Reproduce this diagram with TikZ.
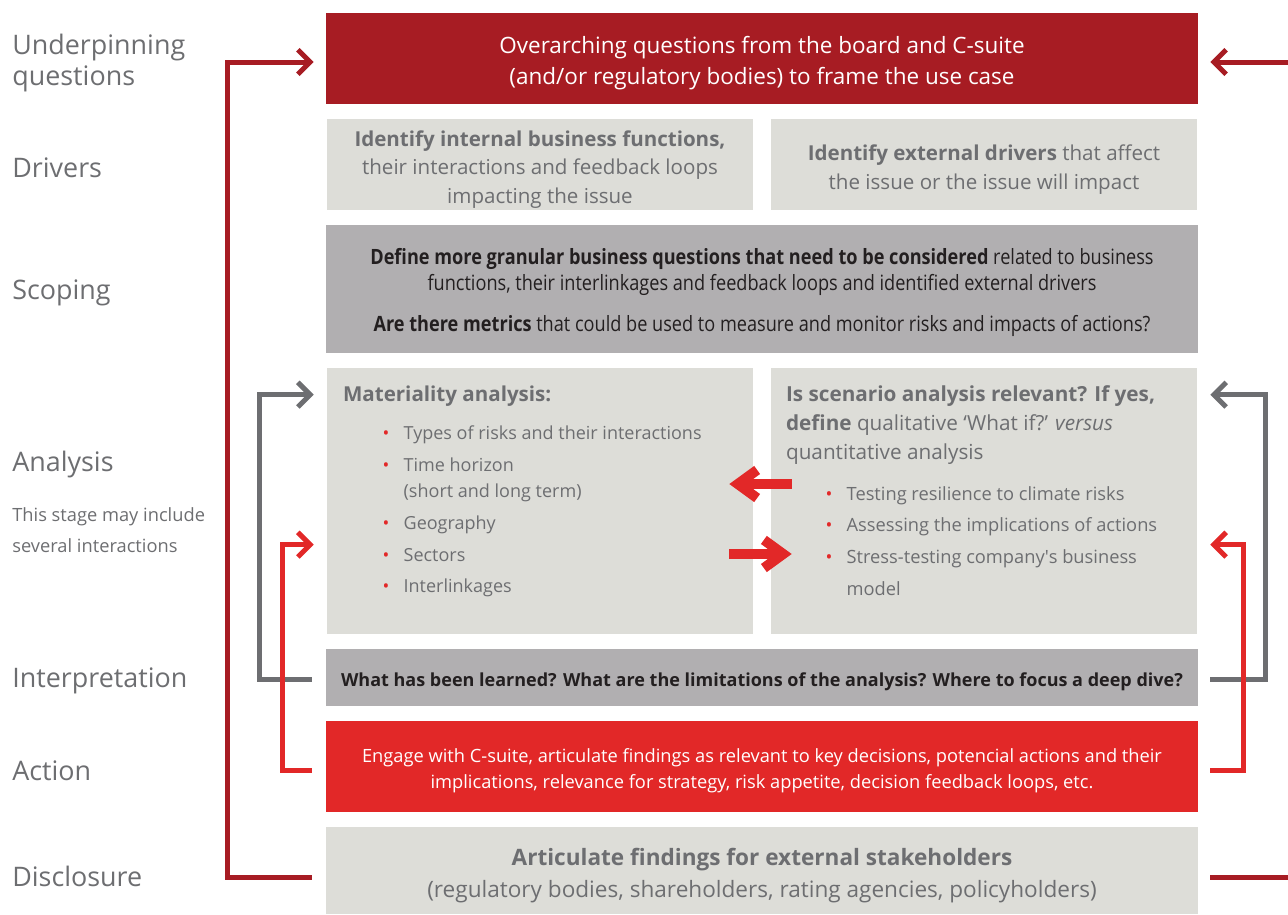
\documentclass[tikz,border=0pt]{standalone}
\usepackage{fontspec}
\setmainfont{Open Sans}
\newfontfamily\condfont[FakeStretch=0.86]{Open Sans}
\usetikzlibrary{arrows.meta,positioning}
\definecolor{boardred}{HTML}{A71C23}
\definecolor{actred}{HTML}{E22828}
\definecolor{palebox}{HTML}{DDDDD8}
\definecolor{midbox}{HTML}{B1AFB1}
\definecolor{txtgray}{HTML}{6D6E71}
\definecolor{inkblack}{HTML}{231F20}
\newcommand{\rbul}{\hspace*{22.5pt}\makebox[12pt][l]{\textcolor{actred}{\textbullet}}}
\newcommand{\rind}{\hspace*{34.5pt}}
\newcommand{\stquote}{\XeTeXglyph\XeTeXcharglyph"27\relax}
\begin{document}
\begin{tikzpicture}[x=0.02cm, y=-0.02cm, line join=miter,
		box/.style={rectangle, inner sep=0pt},
		wide/.style={box, minimum width=17.44cm},
		half/.style={box, minimum width=8.52cm},
		boxtext/.style={align=center, inner sep=0pt},
		stage/.style={anchor=west, align=left, inner sep=0pt, text=txtgray, font=\fontsize{15.3}{18}\selectfont},
		feedback/.style={line width=0.1cm, -{Straight Barb[length=7pt,width=14pt]}},
		crossarrow/.style={actred, line width=0.2cm, -{Straight Barb[length=11pt,width=16pt]}}
		]
		\useasboundingbox (0,0) rectangle (1288,914);
		%stage names on the left
		\node[stage] (lquest) at (12,63) {Underpinning\\questions};
		\node[stage] (ldriv) at (12,168) {Drivers};
		\node[stage] (lscope) at (12,293) {Scoping};
		\node[stage] (lanal) at (12,465) {Analysis};
		\node[stage, font=\fontsize{10.4}{18}\selectfont] (lnote) at (12,530) {This stage may include\\several interactions};
		\node[stage] (linterp) at (12,681) {Interpretation};
		\node[stage] (laction) at (12,771) {Action};
		\node[stage] (ldisc) at (12,876) {Disclosure};
		
		%boxes
		\node[wide, fill=boardred, minimum height=1.82cm] (top) at (762,58.5) {};
		\node[half, fill=palebox, minimum height=1.82cm] (drvint) at (540,164.5) {};
		\node[half, fill=palebox, minimum height=1.82cm] (drvext) at (984,164.5) {};
		\node[wide, fill=midbox, minimum height=2.56cm] (scope) at (762,289) {};
		\node[half, fill=palebox, minimum height=5.32cm] (matl) at (540,501) {};
		\node[half, fill=palebox, minimum height=5.32cm] (scen) at (984,501) {};
		\node[wide, fill=midbox, minimum height=1.14cm] (interp) at (762,677.5) {};
		\node[wide, fill=actred, minimum height=1.82cm] (act) at (762,766.5) {};
		\node[wide, fill=palebox, minimum height=1.74cm] (disc) at (762,870.5) {};
		
		%texts in the boxes
		\node[boxtext, text=white, font=\fontsize{12.8}{18}\selectfont] (topText) at ([yshift=-0.09cm]top.center)
			{Overarching questions from the board and C-suite\\(and/or regulatory bodies) to frame the use case};
		\node[boxtext, text=txtgray, font=\fontsize{11.7}{16.4}\selectfont] (drvintText) at ([yshift=-0.1cm]drvint.center)
			{\textbf{Identify internal business functions,}\\their interactions and feedback loops\\impacting the issue};
		\node[boxtext, text=txtgray, font=\fontsize{11.7}{16.4}\selectfont] (drvextText) at ([yshift=-0.11cm]drvext.center)
			{\textbf{Identify external drivers} that affect\\the issue or the issue will impact};
		\node[boxtext, text=inkblack, font=\condfont\fontsize{12}{14.7}\selectfont] (scopeText) at ([yshift=-0.07cm]scope.center)
			{\textbf{Define more granular business questions that need to be considered} related to business\\
			functions, their interlinkages and feedback loops and identified external drivers\\[9pt]
			\textbf{Are there metrics} that could be used to measure and monitor risks and impacts of actions?};
		\node[boxtext, text=inkblack, font=\bfseries\fontsize{10.25}{14}\selectfont] (interpText) at ([yshift=-0.08cm]interp.center)
			{What has been learned? What are the limitations of the analysis? Where to focus a deep dive?};
		\node[boxtext, text=white, font=\fontsize{10.4}{14.7}\selectfont] (actText) at ([yshift=-0.08cm]act.center)
			{Engage with C-suite, articulate findings as relevant to key decisions, potencial actions and their\\
			implications, relevance for strategy, risk appetite, decision feedback loops, etc.};
		\node[boxtext, text=txtgray, font=\fontsize{12.85}{18}\selectfont] (discText) at ([yshift=-0.1cm]disc.center)
			{\textbf{Articulate findings for external stakeholders}\\(regulatory bodies, shareholders, rating agencies, policyholders)};
		
		%text of the analysis boxes
		\node[anchor=north west, align=left, text=txtgray, inner sep=0pt, font=\fontsize{10.25}{14.7}\selectfont] (matlText)
			at ([xshift=0.32cm,yshift=-0.36cm]matl.north west)
			{{\fontsize{11.7}{16.4}\selectfont\bfseries Materiality analysis:}\\[7pt]
			\rbul Types of risks and their interactions\\[3.4pt]
			\rbul Time horizon\\
			\rind(short and long term)\\[3.4pt]
			\rbul Geography\\[3.4pt]
			\rbul Sectors\\[3.4pt]
			\rbul Interlinkages};
		\node[anchor=north west, align=left, text=txtgray, inner sep=0pt, font=\fontsize{10.4}{18.1}\selectfont] (scenText)
			at ([xshift=0.3cm,yshift=-0.36cm]scen.north west)
			{{\fontsize{11.8}{16.4}\selectfont\bfseries Is scenario analysis relevant? If yes,}\\[-1.7pt]
			{\fontsize{11.8}{16.4}\selectfont\textbf{define} qualitative ‘What if?’ \textit{versus}}\\[-1.7pt]
			{\fontsize{11.8}{16.4}\selectfont quantitative analysis}\\[5pt]
			\rbul Testing resilience to climate risks\\
			\rbul Assessing the implications of actions\\
			\rbul Stress-testing company\stquote s business\\
			\rind model};
		
		%feedback loops
		\draw[feedback, boardred] ([xshift=-0.28cm,yshift=-0.13cm]disc.west) -| ([xshift=-1.96cm,yshift=-0.07cm]top.west) -- ([xshift=-0.24cm,yshift=-0.07cm]top.west);
		\draw[feedback, boardred] ([xshift=1.8cm,yshift=-0.07cm]top.east) -- ([xshift=0.24cm,yshift=-0.07cm]top.east);
		\draw[boardred, line width=0.1cm] ([xshift=0.24cm,yshift=-0.13cm]disc.east) -- ([xshift=1.8cm,yshift=-0.13cm]disc.east);
		\draw[feedback, txtgray] ([xshift=-0.28cm,yshift=-0.03cm]interp.west) -| ([xshift=-1.34cm,yshift=-0.54cm]matl.north west) -- ([xshift=-0.26cm,yshift=-0.54cm]matl.north west);
		\draw[feedback, txtgray] ([xshift=0.24cm,yshift=-0.03cm]interp.east) -| ([xshift=1.36cm,yshift=-0.54cm]scen.north east) -- ([xshift=0.26cm,yshift=-0.54cm]scen.north east);
		\draw[feedback, actred] ([xshift=-0.28cm,yshift=-0.07cm]act.west) -| ([xshift=-0.88cm,yshift=-3.54cm]matl.north west) -- ([xshift=-0.26cm,yshift=-3.54cm]matl.north west);
		\draw[feedback, actred] ([xshift=0.24cm,yshift=-0.07cm]act.east) -| ([xshift=0.92cm,yshift=-3.54cm]scen.north east) -- ([xshift=0.26cm,yshift=-3.54cm]scen.north east);
		
		%between materiality and scenario analysis
		\draw[crossarrow] ([xshift=0.42cm,yshift=0.34cm]scen.west) -- ([xshift=-0.48cm,yshift=0.34cm]matl.east);
		\draw[crossarrow] ([xshift=-0.48cm,yshift=-1.06cm]matl.east) -- ([xshift=0.42cm,yshift=-1.06cm]scen.west);
\end{tikzpicture}
\end{document}
